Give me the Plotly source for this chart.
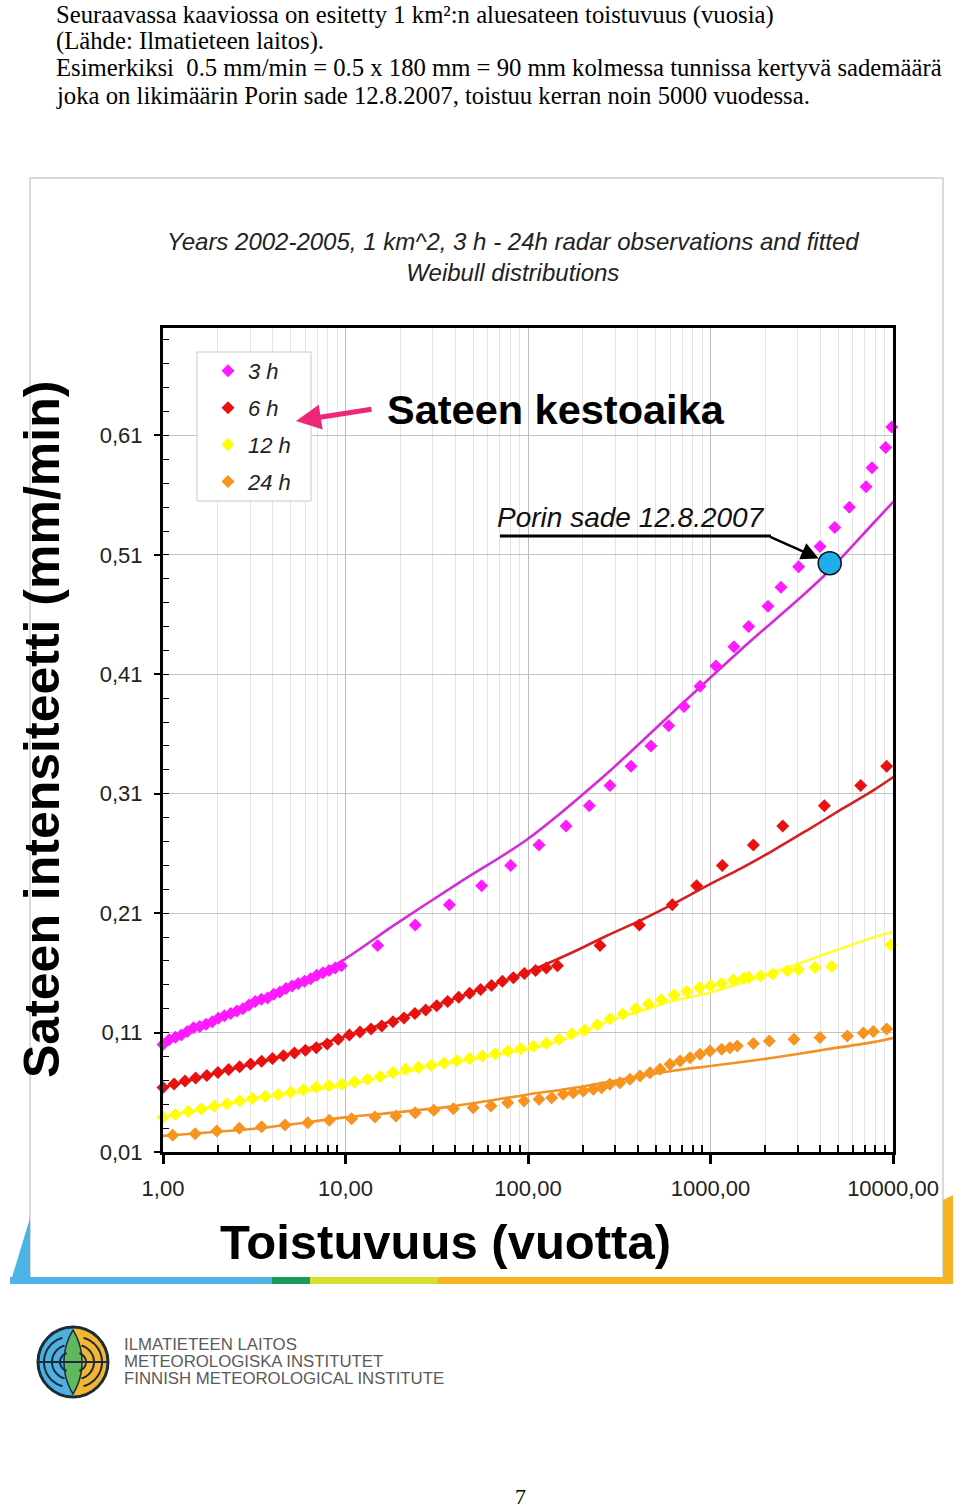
import numpy as np
import plotly.graph_objects as go

# ------------------------------------------------------------------ data
# 3 h observations (return period in years, intensity mm/min)
x_3h = [1.00, 1.08, 1.17, 1.26, 1.36, 1.47, 1.59, 1.72, 1.86, 2.01, 2.17, 2.35, 2.54, 2.74,
        2.96, 3.20, 3.46, 3.74, 4.04, 4.37, 4.72, 5.10, 5.51, 5.96, 6.44, 6.96, 7.52, 8.13,
        8.79, 9.50,
        15.0, 24.1, 37.1, 55.7, 80.4, 114.9, 161.6, 216.8, 281.5, 366.7, 471.7, 590, 716, 876,
        1071, 1344, 1619, 2065, 2433, 3041, 3981, 4795, 5765, 7118, 7674, 9120, 9840]
y_3h = [0.100, 0.104, 0.106, 0.108, 0.111, 0.114, 0.115, 0.117, 0.119, 0.122, 0.124, 0.126,
        0.128, 0.130, 0.133, 0.136, 0.138, 0.139, 0.142, 0.144, 0.147, 0.149, 0.151, 0.153,
        0.155, 0.158, 0.160, 0.162, 0.164, 0.166,
        0.183, 0.200, 0.217, 0.233, 0.250, 0.267, 0.283, 0.300, 0.317, 0.333, 0.350, 0.367,
        0.383, 0.400, 0.417, 0.433, 0.450, 0.467, 0.483, 0.500, 0.517, 0.533, 0.550, 0.567,
        0.583, 0.600, 0.617]
fit_x_3h = [1, 2, 5, 9.33, 18.3, 42.4, 98.4, 270, 625, 1452, 3366, 4330, 7800, 10690]
fit_y_3h = [0.101, 0.121, 0.148, 0.169, 0.1995, 0.236, 0.2715, 0.3268, 0.3785, 0.430,
            0.479, 0.4946, 0.5365, 0.559]

# 6 h observations
x_6h = [1.00, 1.15, 1.32, 1.51, 1.74, 2.00, 2.29, 2.63, 3.02, 3.47, 3.98, 4.57, 5.25, 6.03,
        6.92, 7.94, 9.12, 10.5, 12.0, 13.8, 15.8, 18.2, 20.9, 24.0, 27.5, 31.6, 36.3, 41.7,
        47.9, 55.0, 63.1, 72.4, 83.2, 95.5, 110, 126, 145,
        248, 407.6, 617.6, 839.5, 1161, 1718, 2488, 4206, 6653, 9232]
y_6h = [0.064, 0.067, 0.0695, 0.072, 0.074, 0.0766, 0.079, 0.0813, 0.0836, 0.086, 0.0882,
        0.0905, 0.093, 0.0952, 0.0973, 0.1005, 0.1045, 0.108, 0.1105, 0.113, 0.1156, 0.119,
        0.1222, 0.126, 0.129, 0.1325, 0.136, 0.1395, 0.143, 0.146, 0.1495, 0.153, 0.156,
        0.1595, 0.162, 0.164, 0.166,
        0.183, 0.200, 0.217, 0.233, 0.250, 0.267, 0.283, 0.300, 0.317, 0.333]
fit_x_6h = [1, 2, 4, 10, 20, 50, 100, 177, 270, 411, 625, 1000, 1452, 2200, 3366, 5100,
            7800, 10690]
fit_y_6h = [0.064, 0.0766, 0.088, 0.107, 0.1222, 0.144, 0.161, 0.1775, 0.1911, 0.2037,
            0.2177, 0.2345, 0.2471, 0.2624, 0.2792, 0.296, 0.3128, 0.3268]

# 12 h observations
x_12h = [1.00, 1.17, 1.38, 1.62, 1.91, 2.24, 2.63, 3.09, 3.63, 4.27, 5.01, 5.89, 6.92, 8.13,
         9.55, 11.2, 13.2, 15.5, 18.2, 21.4, 25.1, 29.5, 34.7, 40.7, 47.9, 56.2, 66.1, 77.6,
         91.2, 107, 126, 148, 174, 204, 240, 282, 331, 389, 457, 537, 631, 741, 871, 1000,
         1151, 1334, 1527, 1617, 1884, 2193, 2636, 3029, 3738, 4611, 9710]
y_12h = [0.039, 0.0415, 0.044, 0.046, 0.0483, 0.0505, 0.0528, 0.0549, 0.0565, 0.0581, 0.0600,
         0.0622, 0.0643, 0.0656, 0.0668, 0.0686, 0.0709, 0.0732, 0.0765, 0.0792, 0.0808,
         0.0826, 0.0845, 0.0865, 0.0883, 0.0903, 0.0923, 0.0945, 0.0964, 0.0985, 0.101,
         0.1045, 0.109, 0.112, 0.1165, 0.1215, 0.1255, 0.1300, 0.1340, 0.1375, 0.1415,
         0.1445, 0.1475, 0.1493,
         0.1511, 0.1540, 0.1556, 0.1561, 0.1573, 0.159, 0.1618, 0.1629, 0.1645, 0.1653, 0.1836]
fit_x_12h = [1, 3, 10, 30, 100, 150, 270, 411, 625, 1000, 1452, 2200, 3366, 5100, 7800, 10690]
fit_y_12h = [0.039, 0.054, 0.066, 0.082, 0.096, 0.103, 0.119, 0.1278, 0.1366, 0.1436, 0.1511,
             0.1603, 0.1702, 0.180, 0.1897, 0.1953]

# 24 h observations
x_24h = [1.13, 1.50, 1.97, 2.62, 3.47, 4.66, 6.21, 8.15, 10.8, 14.5, 18.9, 24.1, 30.5, 39.0,
         50.1, 62.7, 77.4, 95.1, 114.9, 134.8, 156, 177, 201, 228, 253, 281, 319, 362, 411,
         466, 529, 600, 681, 773, 876, 993, 1151, 1278, 1403, 1718, 2100, 2868, 3981, 5618,
         6877, 7800, 9232]
y_24h = [0.0241, 0.0253, 0.0275, 0.0298, 0.0311, 0.0326, 0.0345, 0.0365, 0.0379, 0.0393,
         0.0401, 0.0429, 0.0449, 0.0462, 0.0471, 0.0485, 0.0513, 0.0527, 0.0541, 0.0555,
         0.0583, 0.0597, 0.0611, 0.0625, 0.0639, 0.0667, 0.068, 0.0709, 0.0737, 0.0764,
         0.0793, 0.0835, 0.0863, 0.089, 0.0918, 0.0946, 0.0961, 0.0974, 0.0988, 0.1008,
         0.103, 0.1045, 0.1058, 0.1072, 0.1097, 0.111, 0.1129]
fit_x_24h = [1, 3.4, 10, 18.3, 37.3, 98.4, 193, 411, 625, 1000, 1800, 3000, 4330, 7800,
             10690]
fit_y_24h = [0.0235, 0.030, 0.039, 0.043, 0.048, 0.058, 0.0645, 0.0734, 0.078, 0.082,
             0.087, 0.092, 0.096, 0.102, 0.1064]

# Porin sade 12.8.2007
porin_x = [4500]
porin_y = [0.503]

series_names = ["3 h", "6 h", "12 h", "24 h"]

x_tickvals = [1, 10, 100, 1000, 10000]
x_ticktext = ["1,00", "10,00", "100,00", "1000,00", "10000,00"]
y_tickvals = [0.01, 0.11, 0.21, 0.31, 0.41, 0.51, 0.61]
y_ticktext = ["0,01", "0,11", "0,21", "0,31", "0,41", "0,51", "0,61"]

# ------------------------------------------------------------------ layout helpers
W, H = 960, 1511
L, R, T, B = 163, 893, 328, 1152
F = "Liberation Sans, Arial, sans-serif"
FS = "Liberation Serif, Times New Roman, serif"


def PX(x):
    return (x - L) / (R - L)


def PY(y):
    return (B - y) / (B - T)


def poly(pts):
    s = "M " + " L ".join(f"{PX(a):.5f},{PY(b):.5f}" for a, b in pts) + " Z"
    return s


def arc_path(cx, cy, r, a0, a1, n=30):
    ang = np.radians(np.linspace(a0, a1, n))
    pts = [(cx + r * np.cos(a), cy - r * np.sin(a)) for a in ang]
    return "M " + " L ".join(f"{PX(a):.5f},{PY(b):.5f}" for a, b in pts)


marker_colors = ["#ff1aff", "#ea1010", "#ffff00", "#f7931e"]
line_colors = ["#d62bd8", "#d42020", "#ffff30", "#f39226"]
obs_x = [x_3h, x_6h, x_12h, x_24h]
obs_y = [y_3h, y_6h, y_12h, y_24h]
fit_x = [fit_x_3h, fit_x_6h, fit_x_12h, fit_x_24h]
fit_y = [fit_y_3h, fit_y_6h, fit_y_12h, fit_y_24h]

fig = go.Figure()
for i, nm in enumerate(series_names):
    fig.add_trace(go.Scatter(x=fit_x[i], y=fit_y[i], mode="lines", showlegend=False,
                             legendgroup=nm, hoverinfo="skip",
                             line=dict(color=line_colors[i], width=2.6, shape="spline",
                                       smoothing=0.8)))
for i, nm in enumerate(series_names):
    fig.add_trace(go.Scatter(x=obs_x[i], y=obs_y[i], mode="markers", name=nm,
                             legendgroup=nm, cliponaxis=False,
                             marker=dict(symbol="diamond", size=10, color=marker_colors[i])))
fig.add_trace(go.Scatter(x=porin_x, y=porin_y, mode="markers", showlegend=False,
                         cliponaxis=False,
                         marker=dict(symbol="circle", size=23, color="#1eaee9",
                                     line=dict(color="#111", width=1.5))))

minor_x = [d * 10 ** e for e in range(4) for d in range(2, 10)]

fig.update_xaxes(type="log", range=[0, 4], tickmode="array", tickvals=x_tickvals,
                 ticktext=x_ticktext, ticks="outside", ticklen=9, tickwidth=2.5,
                 tickcolor="black", showline=True, linecolor="black", linewidth=3,
                 mirror=True, showgrid=True, gridcolor="#bdbdbd", gridwidth=1,
                 zeroline=False, ticklabelstandoff=6,
                 tickfont=dict(family=F, size=22, color="#222"),
                 minor=dict(tickvals=minor_x, ticks="inside", ticklen=7, tickwidth=1.5,
                            tickcolor="black", showgrid=True, gridcolor="#e4e4e4",
                            gridwidth=1))
fig.update_yaxes(range=[0.01, 0.70], tickmode="array", tickvals=y_tickvals,
                 ticktext=y_ticktext, ticks="outside", ticklen=6, tickwidth=1.5,
                 tickcolor="black", showline=True, linecolor="black", linewidth=3,
                 mirror=True, showgrid=True, gridcolor="#c4c4c4", gridwidth=1,
                 zeroline=False, ticklabelstandoff=7,
                 tickfont=dict(family=F, size=22, color="#222"),
                 minor=dict(tick0=0.01, dtick=0.02, ticks="inside", ticklen=6,
                            tickwidth=1.2, tickcolor="black", showgrid=False))

shapes = []
# outer light frame of chart image
shapes.append(dict(type="rect", xref="paper", yref="paper", x0=PX(30), x1=PX(943),
                   y0=PY(1278), y1=PY(178), line=dict(color="#dadada", width=2),
                   layer="below"))
# bottom decorative band
band = [(10, 272, "#4db3e6"), (272, 310, "#1a9b5c"), (310, 438, "#d6df2c"),
        (438, 953, "#f6b323")]
for a, b, c in band:
    shapes.append(dict(type="rect", xref="paper", yref="paper", x0=PX(a), x1=PX(b),
                       y0=PY(1284), y1=PY(1277), line=dict(width=0), fillcolor=c))
shapes.append(dict(type="path", xref="paper", yref="paper",
                   path=poly([(10, 1284), (30, 1218), (30, 1284)]),
                   fillcolor="#4db3e6", line=dict(width=0)))
shapes.append(dict(type="path", xref="paper", yref="paper",
                   path=poly([(943, 1200), (953, 1195), (953, 1284), (943, 1284)]),
                   fillcolor="#f6b323", line=dict(width=0)))
# legend box
shapes.append(dict(type="rect", xref="paper", yref="paper", x0=PX(197), x1=PX(311),
                   y0=PY(501), y1=PY(352), fillcolor="white",
                   line=dict(color="#c8c8c8", width=1), layer="above"))
# pointer line for Porin annotation
shapes.append(dict(type="line", xref="paper", yref="paper", x0=PX(500), x1=PX(771),
                   y0=PY(536), y1=PY(536), line=dict(color="black", width=3)))

# logo
cx, cy, rr = 73, 1362, 35
ang = np.linspace(90, 270, 40)
left_half = [(cx + rr * np.cos(np.radians(a)), cy - rr * np.sin(np.radians(a))) for a in ang]
ang = np.linspace(-90, 90, 40)
right_half = [(cx + rr * np.cos(np.radians(a)), cy - rr * np.sin(np.radians(a))) for a in ang]
shapes.append(dict(type="path", xref="paper", yref="paper", path=poly(left_half),
                   fillcolor="#4fb0e0", line=dict(width=0)))
shapes.append(dict(type="path", xref="paper", yref="paper", path=poly(right_half),
                   fillcolor="#f4b532", line=dict(width=0)))
# green lens
d, Rl = 52.4, 61.4
a_max = np.degrees(np.arcsin(32 / Rl))
angs = np.linspace(180 - a_max, 180 + a_max, 20)
lens_l = [(cx + d + Rl * np.cos(np.radians(a)), cy - Rl * np.sin(np.radians(a))) for a in angs]
angs = np.linspace(-a_max, a_max, 20)
lens_r = [(cx - d + Rl * np.cos(np.radians(a)), cy - Rl * np.sin(np.radians(a))) for a in angs]
shapes.append(dict(type="path", xref="paper", yref="paper", path=poly(lens_l + lens_r),
                   fillcolor="#5fb760", line=dict(color="#1c2b3a", width=1.5)))
for r_ in (9, 17, 25):
    shapes.append(dict(type="path", xref="paper", yref="paper",
                       path=arc_path(cx - 4, cy, r_, 105, 255), line=dict(color="#1c2b3a", width=2)))
    shapes.append(dict(type="path", xref="paper", yref="paper",
                       path=arc_path(cx + 4, cy, r_, -75, 75), line=dict(color="#1c2b3a", width=2)))
shapes.append(dict(type="line", xref="paper", yref="paper", x0=PX(cx - rr), x1=PX(cx + rr),
                   y0=PY(cy), y1=PY(cy), line=dict(color="#1c2b3a", width=2)))
shapes.append(dict(type="circle", xref="paper", yref="paper", x0=PX(cx - rr), x1=PX(cx + rr),
                   y0=PY(cy + rr), y1=PY(cy - rr), line=dict(color="#1c2b3a", width=3)))

ann = []
top_lines = [
    "Seuraavassa kaaviossa on esitetty 1 km²:n aluesateen toistuvuus (vuosia)",
    "(Lähde: Ilmatieteen laitos).",
    "Esimerkiksi \u00a00.5 mm/min = 0.5 x 180 mm = 90 mm kolmessa tunnissa kertyvä sademäärä",
    "joka on likimäärin Porin sade 12.8.2007, toistuu kerran noin 5000 vuodessa.",
]
top_y = [15, 41, 68, 96]
for k, t in enumerate(top_lines):
    ann.append(dict(text=t, xref="paper", yref="paper", x=PX(54), y=PY(top_y[k]),
                    xanchor="left", yanchor="middle", showarrow=False,
                    font=dict(family=FS, size=24.7, color="black")))
ann.append(dict(text="Years 2002-2005, 1 km^2, 3 h - 24h radar observations and fitted<br>"
                     "Weibull distributions",
                xref="paper", yref="paper", x=PX(513), y=PY(257), xanchor="center",
                yanchor="middle", showarrow=False,
                font=dict(family=F, size=24, color="#222", style="italic")))
ann.append(dict(text="<b>Sateen kestoaika</b>", xref="paper", yref="paper", x=PX(556),
                y=PY(410), xanchor="center", yanchor="middle", showarrow=False,
                font=dict(family=F, size=41.5, color="black")))
ann.append(dict(text="Porin sade 12.8.2007", xref="paper", yref="paper", x=PX(631),
                y=PY(517), xanchor="center", yanchor="middle", showarrow=False,
                font=dict(family=F, size=28, color="#111", style="italic")))
ann.append(dict(text="", x=np.log10(porin_x[0]), y=porin_y[0], xref="x", yref="y",
                ax=-61, ay=-27, showarrow=True, arrowhead=2, arrowsize=1.4,
                arrowwidth=2.5, arrowcolor="black", standoff=12))
ann.append(dict(text="", xref="paper", yref="paper", x=PX(296), y=PY(421), ax=77, ay=-12,
                showarrow=True, arrowhead=2, arrowsize=1.0, arrowwidth=5,
                arrowcolor="#ec2877"))
ann.append(dict(text="<b>Sateen intensiteetti (mm/min)</b>", xref="paper", yref="paper",
                x=PX(42), y=PY(730), textangle=-90, xanchor="center", yanchor="middle",
                showarrow=False, font=dict(family=F, size=50, color="black")))
ann.append(dict(text="<b>Toistuvuus (vuotta)</b>", xref="paper", yref="paper", x=PX(445),
                y=PY(1242), xanchor="center", yanchor="middle", showarrow=False,
                font=dict(family=F, size=49, color="black")))
logo_lines = ["ILMATIETEEN LAITOS", "METEOROLOGISKA INSTITUTET",
              "FINNISH METEOROLOGICAL INSTITUTE"]
for k, t in enumerate(logo_lines):
    ann.append(dict(text=t, xref="paper", yref="paper", x=PX(122), y=PY(1344 + 17 * k),
                    xanchor="left", yanchor="middle", showarrow=False,
                    font=dict(family=F, size=16.8, color="#5a5a5a")))
ann.append(dict(text="7", xref="paper", yref="paper", x=PX(520), y=PY(1496),
                xanchor="center", yanchor="middle", showarrow=False,
                font=dict(family=FS, size=22, color="black")))

fig.update_layout(
    width=W, height=H, autosize=False,
    margin=dict(l=L, r=W - R, t=T, b=H - B, pad=0),
    paper_bgcolor="white", plot_bgcolor="white",
    font=dict(family=F, color="#222"),
    shapes=shapes, annotations=ann,
    showlegend=True,
    legend=dict(x=PX(208), y=PY(350), xanchor="left", yanchor="top",
                bgcolor="rgba(0,0,0,0)", borderwidth=0, traceorder="grouped",
                tracegroupgap=5.3,
                font=dict(family=F, size=22, color="#222", style="italic")),
)

fig.write_html("out.html", config={"displayModeBar": False},
               post_script="document.body.style.margin='0';")
